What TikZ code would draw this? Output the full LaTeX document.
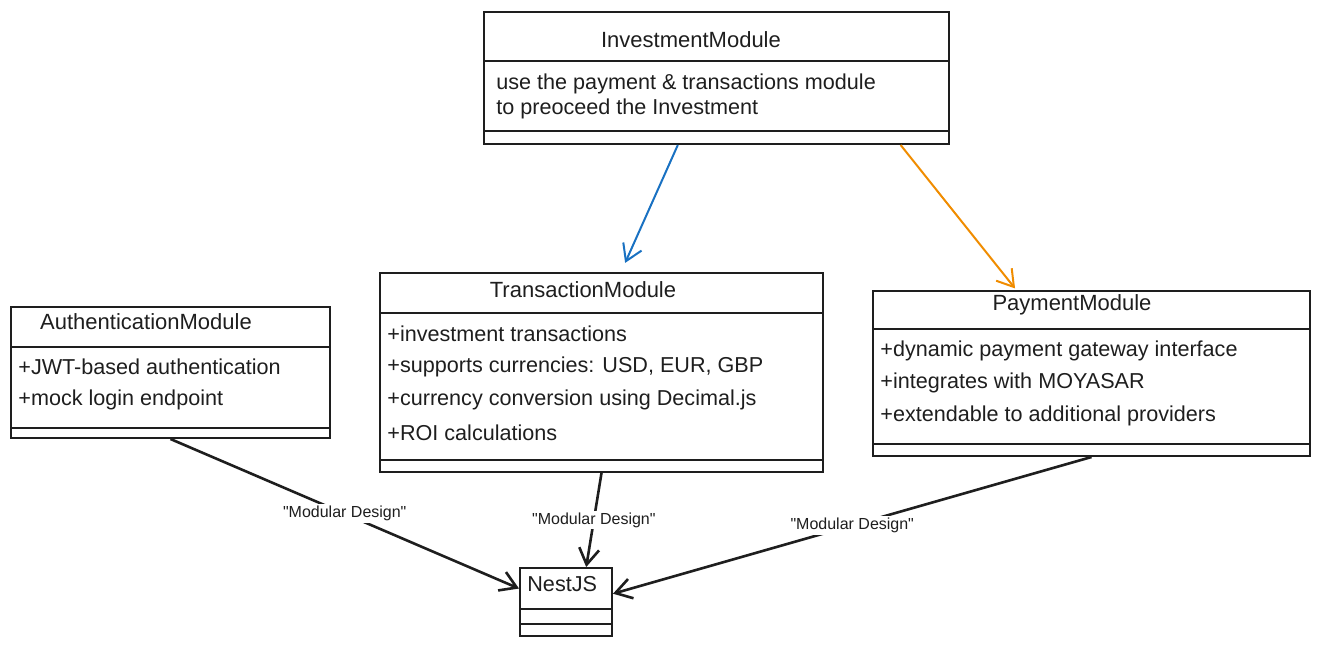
\documentclass[tikz,border=0pt]{standalone}
\usepackage{fontspec}
\setmainfont{Liberation Sans}
\usetikzlibrary{arrows.meta}
\definecolor{ink}{HTML}{1E1E1E}
\definecolor{blueline}{HTML}{1971C2}
\definecolor{orangeline}{HTML}{F08C00}
\newcommand{\modlabel}{\textquotedbl Modular Design\textquotedbl}

\begin{document}
\begin{tikzpicture}[x=0.5pt, y=-0.5pt,
    cls/.style={draw=ink, line width=1pt, anchor=north west, inner sep=0pt},
    classname/.style={text=ink, font=\fontsize{11}{13}\selectfont},
    member/.style={text=ink, anchor=west, inner sep=0pt, font=\fontsize{10.8}{13}\selectfont},
    divider/.style={draw=ink, line width=0.7pt},
    dep/.style={draw=ink, line width=1.3pt, -{Straight Barb[length=8pt, width=10pt]}},
    uses/.style={line width=1pt, -{Straight Barb[length=8pt, width=10pt]}},
    lbl/.style={fill=white, inner sep=1pt, text=ink, font=\fontsize{8}{10}\selectfont}]
    \useasboundingbox (0,0) rectangle (1319,645);

    % InvestmentModule
    \node[cls, minimum width=232.5pt, minimum height=66pt] (invest) at (483,11) {};
    \node[classname] (investname) at (691,40) {InvestmentModule};
    \node[member]    (invest 1)   at (496,84)  {use the payment \& transactions module};
    \node[member]    (invest 2)   at (496,109) {to preoceed the Investment};
    \draw[divider] (483,61) -- (948,61);
    \draw[divider] (483,131) -- (948,131);

    % TransactionModule
    \node[cls, minimum width=221.5pt, minimum height=99.5pt] (trans) at (379,272) {};
    \node[classname] (transname) at (583,290) {TransactionModule};
    \node[member]    (trans 1)   at (387,334) {+investment transactions};
    \node[member]    (trans 2)   at (387,367) {+supports currencies: USD, EUR, GBP};
    \node[member]    (trans 3)   at (387,400) {+currency conversion using Decimal.js};
    \node[member]    (trans 4)   at (387,433) {+ROI calculations};
    \draw[divider] (379,313) -- (822,313);
    \draw[divider] (379,460) -- (822,460);

    % AuthenticationModule
    \node[cls, minimum width=159.5pt, minimum height=65.5pt] (auth) at (10,306) {};
    \node[classname] (authname) at (146,322) {AuthenticationModule};
    \node[member]    (auth 1)   at (18,367) {+JWT-based authentication};
    \node[member]    (auth 2)   at (18,400) {+mock login endpoint};
    \draw[divider] (10,347) -- (329,347);
    \draw[divider] (10,428) -- (329,428);

    % PaymentModule
    \node[cls, minimum width=218.5pt, minimum height=82.5pt] (pay) at (872,290) {};
    \node[classname] (payname) at (1072,305) {PaymentModule};
    \node[member]    (pay 1)   at (880,351) {+dynamic payment gateway interface};
    \node[member]    (pay 2)   at (880,383) {+integrates with MOYASAR};
    \node[member]    (pay 3)   at (880,416) {+extendable to additional providers};
    \draw[divider] (872,329) -- (1309,329);
    \draw[divider] (872,444) -- (1309,444);

    % NestJS
    \node[cls, minimum width=46pt, minimum height=34pt] (nest) at (519,567) {};
    \node[member] (nestname) at (527,584) {NestJS};
    \draw[divider] (519,609) -- (611,609);
    \draw[divider] (519,624) -- (611,624);

    \draw[uses, draw=blueline, shorten >=5pt] (invest.240) -- (trans.79);
    \draw[uses, draw=orangeline, shorten >=1pt] (invest.-20) -- (pay.132);
    \draw[dep] (auth.south)  -- node[lbl] {\modlabel} (nest.164);
    \draw[dep] (trans.south) -- node[lbl] {\modlabel} (nest.60);
    \draw[dep] (pay.south)   -- node[lbl] {\modlabel} (nest.10);
\end{tikzpicture}
\end{document}
